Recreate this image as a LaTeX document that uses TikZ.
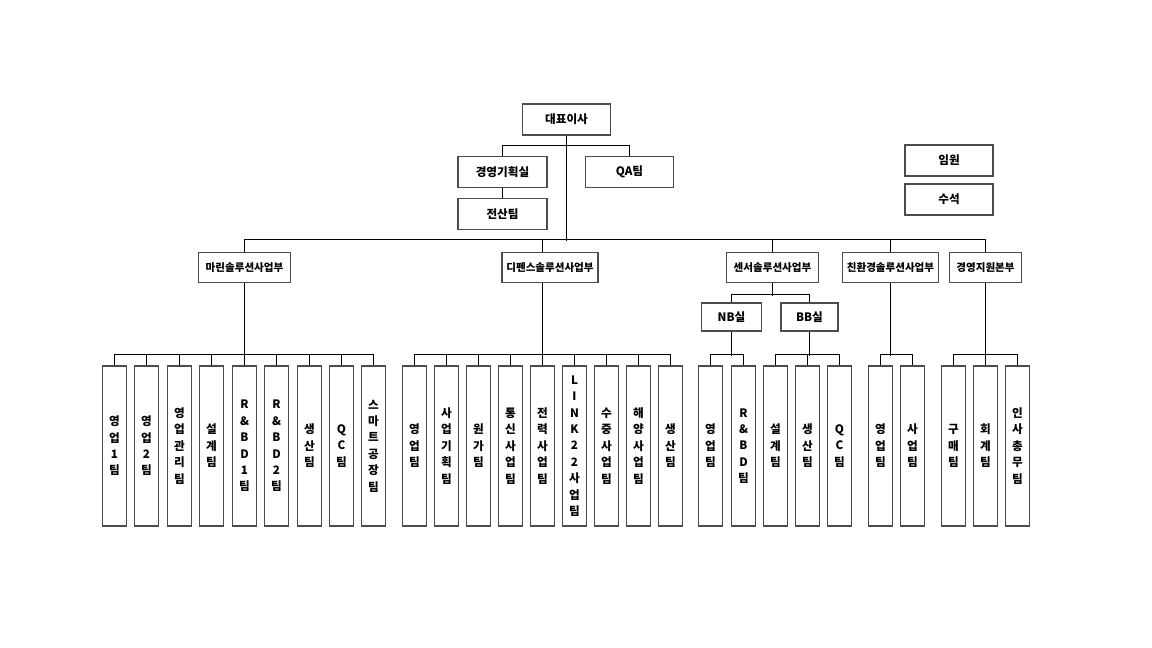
\documentclass[tikz,border=0pt]{standalone}
\usepackage{fontspec}
\setmainfont{Noto Sans CJK KR}
\definecolor{boxGray}{gray}{0.3}
\tikzset{
    box/.style={draw=boxGray, line width=1pt, fill=white, minimum width=66pt, minimum height=23.25pt, inner sep=0pt, font=\fontsize{8.7}{10}\selectfont\bfseries},
    div/.style={box, minimum height=22.5pt, font=\fontsize{7.9}{9}\selectfont\bfseries},
    team/.style={box, minimum width=18.4pt, minimum height=120pt, align=center, font=\fontsize{8.7}{12.3}\selectfont\bfseries},
    link/.style={line width=0.8pt, black}
}

\begin{document}
\begin{tikzpicture}[x=0.75pt,y=-0.75pt]
\useasboundingbox (0,0) rectangle (1152,648);
% top
\node[box] (ceo)  at (566.5,119.5) {대표이사};
\node[box,minimum width=66.75pt] (plan) at (502.5,172) {경영기획실};
\node[box] (qa)   at (629.5,172) {QA팀};
\node[box,minimum width=66.75pt] (it) at (502.5,214) {전산팀};
\node[box] (exec)  at (949,160.5) {임원};
\node[box] (chief) at (949,199.5) {수석};
% divisions
\node[div,minimum width=69pt] (marine)  at (244.5,267.5) {마린솔루션사업부};
\node[div,minimum width=72pt] (defense) at (550,267.5) {디펜스솔루션사업부};
\node[div,minimum width=69pt] (sensor)  at (772.5,267.5) {센서솔루션사업부};
\node[div,minimum width=72pt] (eco)     at (890.5,267.5) {친환경솔루션사업부};
\node[div,minimum width=54pt] (support) at (985.5,267.5) {경영지원본부};
\node[box,minimum width=45pt,minimum height=21pt] (nb) at (731.5,317) {NB실};
\node[box,minimum width=42.75pt,minimum height=21pt] (bb) at (809.5,317) {BB실};
% marine teams
\node[team] (m1) at (114.5,446) {영\\업\\1\\팀};
\node[team] (m2) at (146.5,446) {영\\업\\2\\팀};
\node[team] (m3) at (179.5,446) {영\\업\\관\\리\\팀};
\node[team] (m4) at (211.5,446) {설\\계\\팀};
\node[team] (m5) at (244.5,446) {R\\\&\\B\\D\\1\\팀};
\node[team] (m6) at (276.5,446) {R\\\&\\B\\D\\2\\팀};
\node[team] (m7) at (309.5,446) {생\\산\\팀};
\node[team] (m8) at (341.5,446) {Q\\C\\팀};
\node[team] (m9) at (373.5,446) {스\\마\\트\\공\\장\\팀};
% defense teams
\node[team] (d1) at (414.5,446) {영\\업\\팀};
\node[team] (d2) at (446.5,446) {사\\업\\기\\획\\팀};
\node[team] (d3) at (478.5,446) {원\\가\\팀};
\node[team] (d4) at (510.5,446) {통\\신\\사\\업\\팀};
\node[team] (d5) at (542.5,446) {전\\력\\사\\업\\팀};
\node[team] (d6) at (574.5,446) {L\\I\\N\\K\\2\\2\\사\\업\\팀};
\node[team] (d7) at (606.5,446) {수\\중\\사\\업\\팀};
\node[team] (d8) at (638.5,446) {해\\양\\사\\업\\팀};
\node[team] (d9) at (670.5,446) {생\\산\\팀};
% sensor teams
\node[team] (s1) at (710.5,446) {영\\업\\팀};
\node[team] (s2) at (743.5,446) {R\\\&\\B\\D\\팀};
\node[team] (s3) at (775.5,446) {설\\계\\팀};
\node[team] (s4) at (807.5,446) {생\\산\\팀};
\node[team] (s5) at (839.5,446) {Q\\C\\팀};
% eco and support teams
\node[team] (e1) at (880.5,446)  {영\\업\\팀};
\node[team] (e2) at (912.5,446)  {사\\업\\팀};
\node[team] (g1) at (953.5,446)  {구\\매\\팀};
\node[team] (g2) at (985.5,446)  {회\\계\\팀};
\node[team] (g3) at (1017.5,446) {인\\사\\총\\무\\팀};
% connectors, top
\draw[link] (ceo.south) -- ++(0,105);
\draw[link] (plan.north) -- ++(0,-10) -| (qa.north);
\draw[link] (plan.south) -- (it.north);
\draw[link] (marine.north) -- ++(0,-12.5) -| (support.north);
\draw[link] (defense.north -| d5.north) -- ++(0,-12.5);
\draw[link] (sensor.north) -- ++(0,-12.5);
\draw[link] (eco.north) -- ++(0,-12.5);
% connectors, down to the teams
\draw[link] (marine.south) -- ++(0,72.5);
\draw[link] (m1.north) -- ++(0,-11) -| (m9.north);
\draw[link] (m2.north) -- ++(0,-11) (m3.north) -- ++(0,-11) (m4.north) -- ++(0,-11)
            (m5.north) -- ++(0,-11) (m6.north) -- ++(0,-11) (m7.north) -- ++(0,-11)
            (m8.north) -- ++(0,-11);
\draw[link] (defense.south -| d5.north) -- ++(0,72.5);
\draw[link] (d1.north) -- ++(0,-11) -| (d9.north);
\draw[link] (d2.north) -- ++(0,-11) (d3.north) -- ++(0,-11) (d4.north) -- ++(0,-11)
            (d5.north) -- ++(0,-11) (d6.north) -- ++(0,-11) (d7.north) -- ++(0,-11)
            (d8.north) -- ++(0,-11);
\draw[link] (sensor.south) -- ++(0,12.5);
\draw[link] (nb.north) -- ++(0,-8) -| (bb.north);
\draw[link] (nb.south) -- ++(0,24);
\draw[link] (s1.north) -- ++(0,-11) -| (s2.north);
\draw[link] (bb.south) -- ++(0,24);
\draw[link] (s3.north) -- ++(0,-11) -| (s5.north);
\draw[link] (s4.north) -- ++(0,-11);
\draw[link] (eco.south) -- ++(0,72.5);
\draw[link] (e1.north) -- ++(0,-11) -| (e2.north);
\draw[link] (support.south) -- ++(0,72.5);
\draw[link] (g1.north) -- ++(0,-11) -| (g3.north);
\draw[link] (g2.north) -- ++(0,-11);
\end{tikzpicture}
\end{document}
